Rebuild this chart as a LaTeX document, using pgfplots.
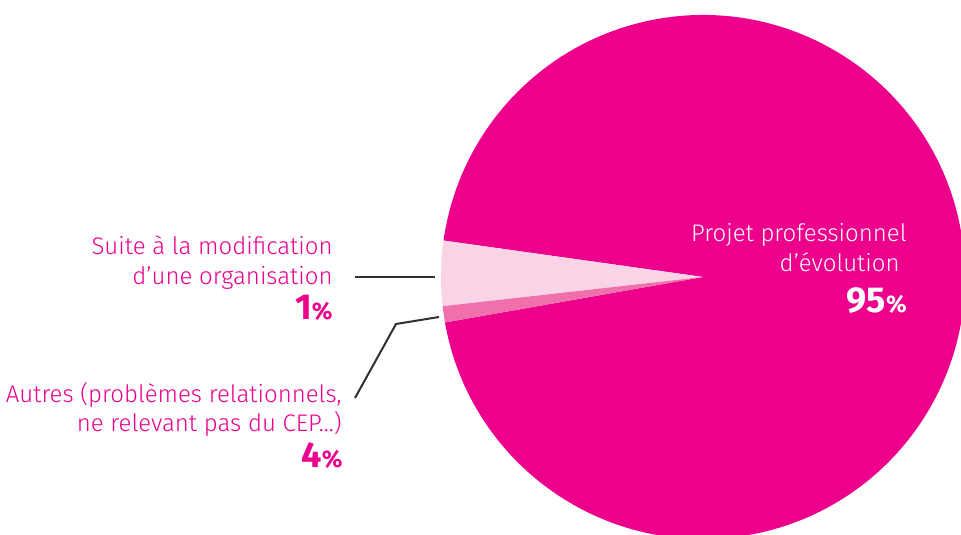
\documentclass[border=0pt]{standalone}
\usepackage{fontspec}
\setmainfont{Fira Sans Light}[BoldFont={Fira Sans Bold}]
\usepackage{pgfplots}
\usepackage{pgfplotstable}
\pgfplotsset{compat=1.18}
\definecolor{mag}{HTML}{EC008C}
\definecolor{lpink}{HTML}{F9D3E6}
\definecolor{mpink}{HTML}{F070AB}
\definecolor{lead}{HTML}{303030}

\pgfplotstableread{
slice share
Projet 95
Suite 4
Autres 1
}\piedata
\pgfplotstablegetelem{0}{share}\of\piedata \let\sA\pgfplotsretval
\pgfplotstablegetelem{1}{share}\of\piedata \let\sB\pgfplotsretval
\pgfplotstablegetelem{2}{share}\of\piedata \let\sC\pgfplotsretval
\pgfmathsetmacro\aB{172}
\pgfmathsetmacro\aA{\aB-3.6*\sA}
\pgfmathsetmacro\aC{\aB+3.6*\sB}
\pgfmathsetmacro\aD{\aC+3.6*\sC}

\begin{document}
\begin{tikzpicture}
\begin{axis}[name=ax, x=0.5pt, y=0.5pt, xmin=0, xmax=961, ymin=0, ymax=534,
  hide axis, clip=true]
\addplot[draw=none, forget plot] coordinates {(703,257)};
\fill[mag] (703,257) -- +(\aA:131pt) arc[start angle=\aA, end angle=\aB, radius=131pt] -- cycle;
\fill[lpink] (703,257) -- +(\aB:131pt) arc[start angle=\aB, end angle=\aC, radius=131pt] -- cycle;
\fill[mpink] (703,257) -- +(\aC:131pt) arc[start angle=\aC, end angle=\aD, radius=131pt] -- cycle;
% leader lines
\draw[lead, line width=1pt] (355,257) -- (435,257);
\draw[lead, line width=1pt] (355,136) -- (396,210) -- (439,217);
% left labels
\begin{scope}[every node/.style={anchor=base east, inner sep=0pt, text=mag, font=\fontsize{12}{14}\selectfont}]
\node at (333,279) {Suite à la modification};
\node at (333,249) {d’une organisation};
\node at (333,214) {\fontsize{18}{18}\selectfont\bfseries 1\fontsize{12}{12}\selectfont\%};
\node at (342,131) {Autres (problèmes relationnels,};
\node at (342,102) {ne relevant pas du CEP...)};
\node at (343,66) {\fontsize{18}{18}\selectfont\bfseries 4\fontsize{12}{12}\selectfont\%};
\end{scope}
\begin{scope}[every node/.style={anchor=base east, inner sep=0pt, text=white, font=\fontsize{12}{14}\selectfont}]
\node at (907,292) {Projet professionnel};
\node at (900,262) {d’évolution};
\node at (907,221) {\fontsize{18}{18}\selectfont\bfseries 95\fontsize{12}{12}\selectfont\%};
\end{scope}
\end{axis}
\pgfresetboundingbox
\path[use as bounding box] (ax.south west) rectangle (ax.north east);
\end{tikzpicture}
\end{document}
